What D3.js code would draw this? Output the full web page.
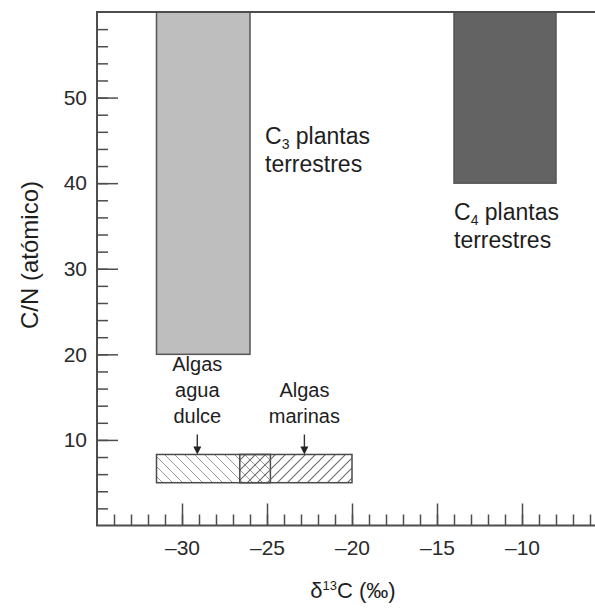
<!DOCTYPE html>
<html>
<head>
<meta charset="utf-8">
<script src="https://cdn.jsdelivr.net/npm/d3@7"></script>
<style>
  html, body { margin: 0; padding: 0; background: #fff; }
  svg { display: block; font-family: "Liberation Sans", Arial, sans-serif; }
</style>
</head>
<body>
<svg id="chart" width="595" height="610"></svg>
<script>
// Terrestrial plant groups: δ13C range and C/N range
const plantNames = ["C3", "C4"];
const plantD13Min = [-31.5, -14];
const plantD13Max = [-26, -8];
const plantCNMin = [20, 40];
const plantCNMax = [60, 60];
const plantFill = ["#bebebe", "#636363"];

// Algae groups: δ13C range, C/N range and arrow position
const algaeNames = [["Algas", "agua", "dulce"], ["Algas", "marinas"]];
const algaeD13Min = [-31.5, -26.6];
const algaeD13Max = [-24.8, -20];
const algaeCNMin = [5, 5];
const algaeCNMax = [8.3, 8.3];
const algaeArrowAt = [-29.1, -22.8];

// Axis ticks
const xMajorTicks = [-30, -25, -20, -15, -10];
const xMinorTicks = d3.range(-34, -5, 1);
const yMajorTicks = [10, 20, 30, 40, 50];
const yMinorTicks = d3.range(2, 60, 2);

const svg = d3.select("#chart");
const plotLeft = 97, plotTop = 12, plotBottom = 525.5;

const x = d3.scaleLinear().domain([-35, -5]).range([plotLeft, plotLeft + 30 * 17]);
const y = d3.scaleLinear().domain([0, 60]).range([plotBottom, plotTop]);

const axisColor = "#4d4d4d";
const textColor = "#1e1e1e";

// hatch patterns for the algae boxes
const defs = svg.append("defs");
function hatch(id, d, color, w) {
  const p = defs.append("pattern")
    .attr("id", id).attr("patternUnits", "userSpaceOnUse")
    .attr("width", 10).attr("height", 10);
  p.append("path").attr("d", d)
    .attr("stroke", color).attr("stroke-width", w).attr("fill", "none");
}
hatch("hatch-back", "M-2,-2 L12,12 M-2,8 L2,12 M8,-2 L12,2", "#9a9a9a", 1);
hatch("hatch-fwd", "M-2,12 L12,-2 M-2,2 L2,-2 M8,12 L12,8", "#6a6a6a", 1.1);
const algaePattern = ["url(#hatch-back)", "url(#hatch-fwd)"];

defs.append("clipPath").attr("id", "clip").append("rect")
  .attr("x", plotLeft).attr("y", plotTop)
  .attr("width", 595 - plotLeft).attr("height", plotBottom - plotTop);

const plot = svg.append("g");

// plant bars
plot.append("g").attr("clip-path", "url(#clip)")
  .selectAll("rect").data(plantNames).join("rect")
  .attr("x", (d, i) => x(plantD13Min[i]))
  .attr("width", (d, i) => x(plantD13Max[i]) - x(plantD13Min[i]))
  .attr("y", (d, i) => y(plantCNMax[i]))
  .attr("height", (d, i) => y(plantCNMin[i]) - y(plantCNMax[i]))
  .attr("fill", (d, i) => plantFill[i])
  .attr("stroke", "#555").attr("stroke-width", 1.5);

// algae boxes
plot.append("g").selectAll("rect").data(algaeNames).join("rect")
  .attr("x", (d, i) => x(algaeD13Min[i]))
  .attr("width", (d, i) => x(algaeD13Max[i]) - x(algaeD13Min[i]))
  .attr("y", (d, i) => y(algaeCNMax[i]))
  .attr("height", (d, i) => y(algaeCNMin[i]) - y(algaeCNMax[i]))
  .attr("fill", (d, i) => algaePattern[i])
  .attr("stroke", "#4a4a4a").attr("stroke-width", 1.5);

// arrows pointing to the algae boxes
const arrows = plot.append("g");
algaeArrowAt.forEach((v, i) => {
  const ax = x(v), ay = y(algaeCNMax[i]);
  arrows.append("line")
    .attr("x1", ax).attr("x2", ax).attr("y1", ay - 20).attr("y2", ay - 6)
    .attr("stroke", "#333").attr("stroke-width", 1.4);
  arrows.append("path")
    .attr("d", `M${ax - 4},${ay - 8} L${ax + 4},${ay - 8} L${ax},${ay} Z`)
    .attr("fill", "#222");
});

// algae labels
algaeNames.forEach((lines, i) => {
  const ax = x(algaeArrowAt[i]);
  const lastBase = y(algaeCNMax[i]) - 31;
  const t = svg.append("text").attr("text-anchor", "middle")
    .attr("font-size", 20).attr("fill", textColor);
  lines.forEach((s, k) => {
    t.append("tspan").attr("x", ax)
      .attr("y", lastBase - (lines.length - 1 - k) * 26).text(s);
  });
});

// plant labels with subscripted photosynthetic pathway
function plantLabel(px, py, sub) {
  const t = svg.append("text").attr("font-size", 23).attr("fill", textColor);
  t.append("tspan").attr("x", px).attr("y", py).text("C");
  t.append("tspan").attr("font-size", 14).attr("dy", 5).text(sub);
  t.append("tspan").attr("dy", -5).text(" plantas");
  t.append("tspan").attr("x", px).attr("y", py + 28).text("terrestres");
}
plantLabel(x(plantD13Max[0]) + 15, y(plantCNMin[1]) - 39, "3");
plantLabel(x(plantD13Min[1]), y(plantCNMin[1]) + 37, "4");

// axes: ticks point inward
const fmt = d => d < 0 ? "\u2013" + Math.abs(d) : d;
const gx = svg.append("g").attr("transform", `translate(0,${plotBottom})`);
gx.call(d3.axisBottom(x).tickValues(xMinorTicks).tickSize(-11).tickFormat(""));
gx.append("g").call(d3.axisBottom(x).tickValues(xMajorTicks).tickSize(-22).tickPadding(10).tickFormat(fmt));
const gy = svg.append("g").attr("transform", `translate(${plotLeft},0)`);
gy.call(d3.axisLeft(y).tickValues(yMinorTicks).tickSize(-11).tickFormat(""));
gy.append("g").call(d3.axisLeft(y).tickValues(yMajorTicks).tickSize(-21).tickPadding(10).tickFormat(fmt));

svg.selectAll(".domain").remove();
svg.selectAll(".tick line").attr("stroke", axisColor).attr("stroke-width", 1.5);
svg.selectAll(".tick text").attr("font-size", 21).attr("fill", "#2a2a2a")
  .attr("font-family", "Liberation Sans, Arial, sans-serif");
gx.selectAll(".tick text").attr("dy", "0.95em");

// frame: left axis, bottom axis and top line
svg.append("path")
  .attr("d", `M595,${plotTop} H${plotLeft} V${plotBottom} H595`)
  .attr("fill", "none").attr("stroke", axisColor).attr("stroke-width", 2);

// axis titles
svg.append("text")
  .attr("transform", `translate(38,255) rotate(-90)`)
  .attr("text-anchor", "middle").attr("font-size", 24).attr("fill", textColor)
  .text("C/N (atómico)");
const xt = svg.append("text").attr("x", 353).attr("y", 598)
  .attr("text-anchor", "middle").attr("font-size", 22).attr("fill", textColor);
xt.append("tspan").text("δ");
xt.append("tspan").attr("font-size", 13).attr("dy", -8).text("13");
xt.append("tspan").attr("dy", 8).text("C (‰)");
</script>
</body>
</html>
